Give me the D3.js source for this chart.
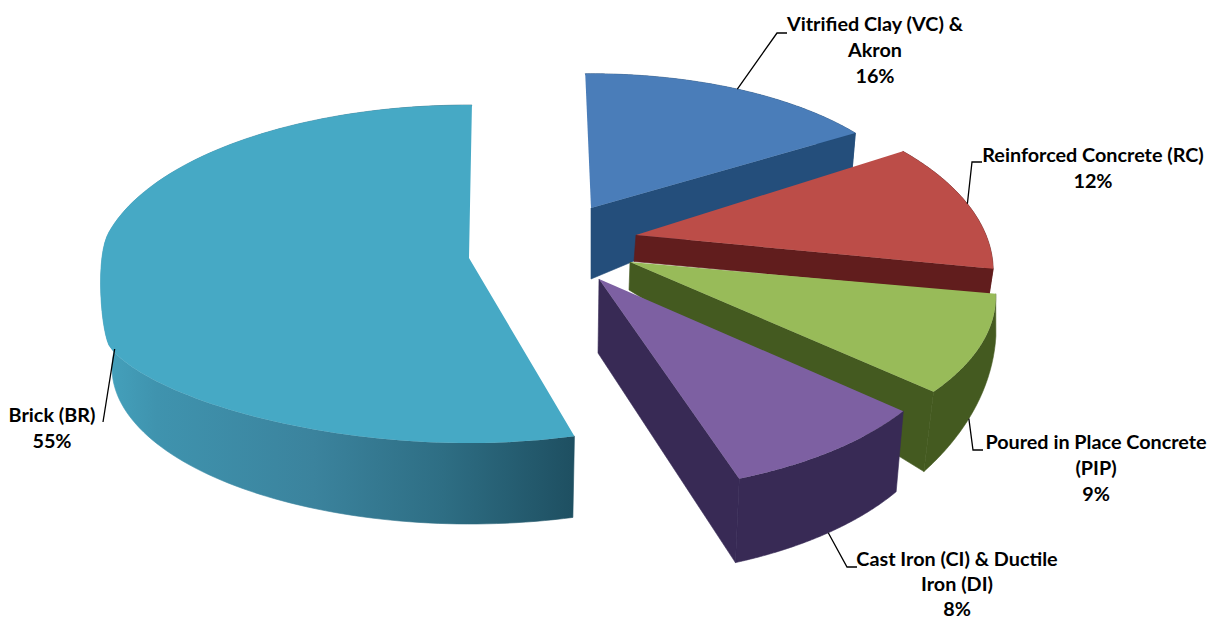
<!DOCTYPE html>
<html><head><meta charset="utf-8">
<script src="https://cdn.jsdelivr.net/npm/d3@7"></script>
<style>html,body{margin:0;background:#fff}svg{display:block}
text{font-family:Lato,"Open Sans",sans-serif;font-weight:700;fill:#000;text-anchor:middle}</style>
</head><body><div id="c"></div>
<script>
// ---- data ----
const categories = ["Vitrified Clay (VC) & Akron","Reinforced Concrete (RC)","Poured in Place Concrete (PIP)","Cast Iron (CI) & Ductile Iron (DI)","Brick (BR)"];
const shares = [16,12,9,8,55];
const labelLines = [["Vitrified Clay (VC) &","Akron"],["Reinforced Concrete (RC)"],["Poured in Place Concrete","(PIP)"],["Cast Iron (CI) & Ductile","Iron (DI)"],["Brick (BR)"]];
// ---- styles ----
const topColors  = ["#4A7DB9","#BC4D48","#98BB59","#7D60A2","#46A9C5"];
const sideColors = ["#244E7B","#611D1D","#445A20","#382A55","url(#brickWall)"];
// ---- layout: each exploded slice has its own projected top and base disc ----
const tops = [
 {x:591,y:208,rx:329,ry:147,k:.095,d0:-1.1,d1:0,sag:0},
 {x:636,y:235,rx:350,ry:173,k:.2,d0:0,d1:0,sag:0},
 {x:630,y:262,rx:358,ry:163,k:.205,d0:0,d1:0,sag:0},
 {x:599,y:279,rx:346,ry:160,k:.25,d0:0,d1:0,sag:0},
 {x:469,y:258,rx:370,ry:167.5,k:.095,d0:3,d1:.5,sag:42}];
const bases = [
 {x:591,y:279,rx:325,ry:214,k:.095,d0:0,d1:0,sag:0},
 {x:634,y:261.5,rx:348,ry:170,k:.2,d0:0,d1:0,sag:0},
 {x:629,y:290,rx:363,ry:238,k:.15,d0:0,d1:0,sag:0},
 {x:598,y:353,rx:339,ry:168,k:.25,d0:0,d1:0,sag:0},
 {x:470,y:368,rx:358,ry:156,k:0,d0:1.3,d1:-10,sag:0}];
const endFace = [true,true,true,true,false];
const leaders = [
 {on:"top",angle:null,via:[[777,33],[787,33]]},
 {on:"top",angle:null,via:[[972,162],[982,162]]},
 {on:"base",angle:120,via:[[973,450],[983,450]]},
 {on:"base",angle:null,via:[[847,567],[857,567]]},
 {on:"base",angle:277,via:[[103,422]]}];
const labelPos = [{x:875,y:31,gap:26},{x:1093,y:162,gap:26},{x:1096,y:449,gap:26},{x:957,y:566,gap:25},{x:52,y:422,gap:26}];
const fontSize = 19.8;

const svg = d3.select("#c").append("svg").attr("width",1208).attr("height",621);
const grad = svg.append("defs").append("linearGradient").attr("id","brickWall")
  .attr("gradientUnits","userSpaceOnUse").attr("x1",100).attr("x2",575).attr("y1",0).attr("y2",0);
[[0,"#45A3BE"],[.12,"#3F93AE"],[.45,"#3B839D"],[.72,"#2E6E84"],[1,"#1E4F61"]]
  .forEach(([o,c])=>grad.append("stop").attr("offset",o).attr("stop-color",c));

const arcs = d3.pie().sort(null).value(d=>d).startAngle(0).endAngle(2*Math.PI)(shares);
const deg = Math.PI/180;
// the reference's lower-left rim sags below a true ellipse, with a corner near 255 degrees
const sagAt = (disc,a)=>{
  if(!disc.sag) return 0;
  const t=a/deg;
  if(t<=180||t>=279) return 0;
  return t<=255 ? disc.sag*Math.pow((t-180)/75,2.6) : disc.sag*(1+Math.cos(Math.PI*(t-255)/24))/2;
};
const project = (disc,a)=>{
  const d = 1+disc.k*Math.cos(a), sag = sagAt(disc,a);
  return [disc.x+disc.rx*Math.sin(a)/d+sag*.14, disc.y-disc.ry*Math.cos(a)/d+sag];
};
const arcPts = (disc,s,n)=>{
  const a0=s.startAngle+disc.d0*deg, a1=s.endAngle+disc.d1*deg;
  return d3.range(0,n+1).map(i=>project(disc,a0+(a1-a0)*i/n));
};
const line = d3.line();
const g = svg.append("g");
const N = 120;

arcs.forEach((s,i)=>{
  const t=arcPts(tops[i],s,N), b=arcPts(bases[i],s,N);
  const slice=g.append("g");
  slice.append("path").attr("d",line(t.concat(b.slice().reverse()))+"Z")
    .attr("fill",sideColors[i]).attr("stroke",sideColors[i]).attr("stroke-width",.6);
  if(endFace[i]) slice.append("path")
    .attr("d",line([[tops[i].x,tops[i].y],t[N],b[N],[bases[i].x,bases[i].y]])+"Z")
    .attr("fill",sideColors[i]).attr("stroke",sideColors[i]).attr("stroke-width",.6);
  slice.append("path").attr("d",line([[tops[i].x,tops[i].y],...t])+"Z").attr("fill",topColors[i]);
});

arcs.forEach((s,i)=>{
  const L=leaders[i], disc=L.on==="top"?tops[i]:bases[i];
  const a=L.angle===null?(s.startAngle+s.endAngle)/2:L.angle*deg;
  svg.append("path").attr("d",line([project(disc,a),...L.via])).attr("fill","none").attr("stroke","#000").attr("stroke-width",1.3);
  const lines=[...labelLines[i],shares[i]+"%"];
  const tx=svg.append("text").attr("font-size",fontSize);
  lines.forEach((t,j)=>tx.append("tspan").attr("x",labelPos[i].x).attr("y",labelPos[i].y+j*labelPos[i].gap).text(t));
});
</script></body></html>
